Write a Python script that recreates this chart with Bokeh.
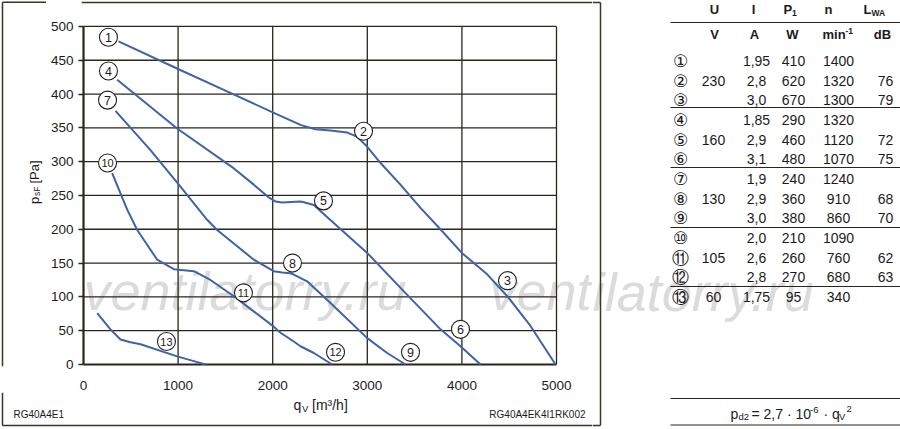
import math
from bokeh.plotting import figure
from bokeh.models import Range1d, FixedTicker, Label
from bokeh.layouts import row, column
from bokeh.embed import file_html
from bokeh.resources import INLINE
from bokeh.core.properties import value

# ---------------- data ----------------
x_ticks = [0, 1000, 2000, 3000, 4000, 5000]
y_ticks = [0, 50, 100, 150, 200, 250, 300, 350, 400, 450, 500]

# curve 1-2-3 (230 V)
c1_q = [370, 1000, 1500, 2000, 2300, 2450, 2610, 2790, 2890, 3000, 3140, 3350, 3560, 3780, 4000, 4270, 4480, 4725, 4990]
c1_p = [478, 437, 405, 373, 354, 348, 346, 343, 337, 322, 298, 266, 232, 199, 165, 133, 101, 57, 0]
# curve 4-5-6 (160 V)
c2_q = [356, 990, 1590, 1800, 1950, 2030, 2100, 2294, 2330, 2435, 2560, 2999, 3422, 3774, 3985, 4197]
c2_p = [421, 349, 290, 266, 248, 241, 239.5, 241, 240, 236, 220, 165, 103, 52, 27, 0]
# curve 7-8-9 (130 V)
c3_q = [338, 708, 1025, 1307, 1413, 1800, 2011, 2100, 2188, 2223, 2364, 2611, 2999, 3210, 3404]
c3_p = [375, 317, 263, 214, 199, 155, 138, 136, 135, 133, 123, 91, 39, 17, 0]
# curve 10-11-12 (105 V)
c4_q = [303, 462, 568, 779, 955, 1166, 1342, 1589, 2011, 2082, 2223, 2294, 2435, 2629]
c4_p = [283, 229, 199, 155, 141, 138, 125, 101, 56, 47, 34, 27, 17, 0]
# curve 13 (60 V)
c5_q = [145, 285, 391, 497, 603, 990, 1166, 1290]
c5_p = [76, 52, 37, 33, 30, 12, 5, 0]

# operating point markers
mark_txt = ["1", "2", "3", "4", "5", "6", "7", "8", "9", "10", "11", "12", "13"]
mark_q = [264, 2960, 4482, 264, 2537, 3985, 254, 2209, 3457, 254, 1691, 2664, 877]
mark_p = [484, 345, 124, 434, 242, 52, 391, 150, 18, 298, 106, 18, 34]

# table
row_ids = ["\u2460", "\u2461", "\u2462", "\u2463", "\u2464", "\u2465", "\u2466",
           "\u2467", "\u2468", "\u2469", "\u246a", "\u246b", "\u246c"]
U_vals = ["", "230", "", "", "160", "", "", "130", "", "", "105", "", "60"]
I_vals = ["1,95", "2,8", "3,0", "1,85", "2,9", "3,1", "1,9", "2,9", "3,0", "2,0", "2,6", "2,8", "1,75"]
P_vals = ["410", "620", "670", "290", "460", "480", "240", "360", "380", "210", "260", "270", "95"]
n_vals = ["1400", "1320", "1300", "1320", "1120", "1070", "1240", "910", "860", "1090", "760", "680", "340"]
L_vals = ["", "76", "79", "", "72", "75", "", "68", "70", "", "62", "63", ""]

# ---------------- style / layout constants ----------------
FONT = "Liberation Sans"
DARK = "#2b251c"
BOXC = "#3c352b"
TXT = "#1b1b1b"
BLUE = "#3e63a8"
WM = "#b8b8b8"

PAGE_W, PAGE_H = 900, 429
LEFT_W = 592          # left panel (chart) width
STRIP_W = 46          # strip holding the y-axis title
TOP_H = 392           # height of chart part
BOX_R = 600           # right edge of the surrounding box
FL, FR, FT, FB = 83, 556, 26, 365   # chart data area (q=0..5000, p=0..500) in page px


def X(px):
    return (px - FL) * 5000.0 / (FR - FL)


def Y(py):
    return (FB - py) * 500.0 / (FB - FT)


def plain(w, h, x0, x1, y_top, y_bot):
    f = figure(width=w, height=h, x_range=Range1d(x0, x1), y_range=Range1d(y_bot, y_top),
               output_backend="svg", toolbar_location=None,
               x_axis_type=None, y_axis_type=None, min_border=0)
    f.grid.visible = False
    f.outline_line_color = None
    f.background_fill_color = "white"
    f.border_fill_color = "white"
    return f


def lab(fig, text, x, y, size=14, align="left", style="normal",
        angle=0.0, color=TXT, font=FONT, alpha=1.0, level="annotation"):
    fig.add_layout(Label(x=x, y=y, text=text, text_font=font,
                         text_font_size=f"{size}px", text_align=align,
                         text_baseline="middle", text_font_style=style, angle=angle,
                         text_color=color, text_alpha=alpha, level=level))


# ---------------- chart figure ----------------
p = figure(width=LEFT_W - STRIP_W, height=TOP_H,
           x_range=Range1d(X(81), X(LEFT_W)), y_range=Range1d(Y(367), Y(0)),
           output_backend="svg", toolbar_location=None,
           min_border_left=81 - STRIP_W, min_border_right=0,
           min_border_top=0, min_border_bottom=TOP_H - 367)
p.background_fill_color = "white"
p.border_fill_color = "white"
p.outline_line_color = None
p.grid.visible = False

p.xaxis.ticker = FixedTicker(ticks=x_ticks)
p.yaxis.ticker = FixedTicker(ticks=y_ticks)
p.axis.minor_tick_line_color = None
p.axis.axis_line_color = None
p.xaxis.major_tick_line_color = None
p.yaxis.major_tick_line_color = DARK
p.yaxis.major_tick_line_width = 1.5
p.yaxis.major_tick_out = 3
p.yaxis.major_tick_in = 2
p.axis.major_label_text_font = FONT
p.axis.major_label_text_font_size = "13.5px"
p.axis.major_label_text_color = TXT
p.yaxis.major_label_standoff = 5
p.xaxis.major_label_standoff = 8

# watermark (second one continues in the table panel)
WM_Y = 291.5
lab(p, "ventilatorry.ru", X(83), Y(WM_Y), size=54, style="italic", color=WM, alpha=0.5, level="underlay")
lab(p, "vent", X(489), Y(WM_Y), size=54, style="italic", color=WM, alpha=0.5, level="underlay")

# grid (drawn only over the data area) and axis lines
gy = y_ticks[1:]
gx = x_ticks[1:]
p.segment(x0=[x_ticks[0]] * len(gy), y0=gy, x1=[x_ticks[-1]] * len(gy), y1=gy,
          line_color=DARK, line_width=1.3)
p.segment(x0=gx, y0=[y_ticks[0]] * len(gx), x1=gx, y1=[y_ticks[-1]] * len(gx),
          line_color=DARK, line_width=1.3)
p.segment(x0=[x_ticks[0], x_ticks[0]], y0=[y_ticks[0], y_ticks[0]],
          x1=[x_ticks[0], x_ticks[-1]], y1=[y_ticks[-1], y_ticks[0]],
          line_color=DARK, line_width=2.2)
# top edge of the surrounding box
p.segment(x0=[X(81)], y0=[Y(2)], x1=[X(LEFT_W)], y1=[Y(2)], line_color=BOXC, line_width=1.5)

# curves
for cq, cp in [(c1_q, c1_p), (c2_q, c2_p), (c3_q, c3_p), (c4_q, c4_p), (c5_q, c5_p)]:
    p.line(cq, cp, line_color=BLUE, line_width=2, line_join="round")

# markers
p.scatter(mark_q, mark_p, size=18, marker="circle", fill_color="white",
          line_color="#222222", line_width=1.1)
one = [i for i, t in enumerate(mark_txt) if len(t) == 1]
two = [i for i, t in enumerate(mark_txt) if len(t) == 2]
p.text([mark_q[i] for i in one], [mark_p[i] for i in one], text=[mark_txt[i] for i in one],
       text_align="center", text_baseline="middle", text_font=value(FONT),
       text_font_size="12.5px", text_color=TXT)
p.text([mark_q[i] for i in two], [mark_p[i] for i in two], text=[mark_txt[i] for i in two],
       text_align="center", text_baseline="middle", text_font=value(FONT),
       text_font_size="11px", text_color=TXT)

# ---------------- left strip (y title) ----------------
a = plain(STRIP_W, TOP_H, 0, STRIP_W, 0, TOP_H)
lab(a, "p", 33.5, 218, 13, angle=math.pi / 2)
lab(a, "sF", 36.5, 209.5, 8.5, angle=math.pi / 2)
lab(a, "[Pa]", 33.5, 196, 13, angle=math.pi / 2)
a.segment(x0=[2, 2], y0=[2, 2], x1=[2, STRIP_W], y1=[TOP_H, 2], line_color=BOXC, line_width=1.5)

# ---------------- bottom strip (x title) ----------------
c = plain(LEFT_W, PAGE_H - TOP_H, 0, LEFT_W, TOP_H, PAGE_H)
lab(c, "q", 293, 404.5, 14)
lab(c, "V", 301.5, 408, 9.5)
lab(c, "[m\u00b3/h]", 311.5, 404.5, 14)
lab(c, "RG40A4E1", 13, 413.5, 10)
lab(c, "RG40A4EK4I1RK002", 585, 413.5, 10, align="right")
c.segment(x0=[2, 2], y0=[TOP_H, 425], x1=[2, LEFT_W], y1=[425, 425], line_color=BOXC, line_width=1.5)

# ---------------- table panel ----------------
d = plain(PAGE_W - LEFT_W, PAGE_H, LEFT_W, PAGE_W, 0, PAGE_H)
lab(d, "ilatorry.ru", LEFT_W + 0.3, WM_Y, size=54, style="italic", color=WM, alpha=0.5, level="underlay")
d.segment(x0=[LEFT_W, BOX_R, LEFT_W], y0=[2, 2, 425], x1=[BOX_R, BOX_R, BOX_R], y1=[2, 425, 425],
          line_color=BOXC, line_width=1.5)

h1, h2 = 9, 34
lab(d, "U", 714, h1, 13, align="center", style="bold")
lab(d, "I", 753, h1, 13, align="center", style="bold")
lab(d, "P", 783, h1, 13, style="bold")
lab(d, "1", 791.5, h1 + 3.5, 8.5, style="bold")
lab(d, "n", 828, h1, 13, align="center", style="bold")
lab(d, "L", 863, h1, 13, style="bold")
lab(d, "WA", 871, h1 + 3.5, 8.5, style="bold")
lab(d, "V", 714, h2, 13, align="center", style="bold")
lab(d, "A", 754, h2, 13, align="center", style="bold")
lab(d, "W", 792, h2, 13, align="center", style="bold")
lab(d, "min", 822, h2, 13, style="bold")
lab(d, "-1", 845, h2 - 4, 8.5, style="bold")
lab(d, "dB", 882, h2, 13, align="center", style="bold")

row_mid = [60.5 + 19.65 * i for i in range(len(row_ids))]
d.text([680] * len(row_ids), row_mid, text=row_ids, text_align="center",
       text_baseline="middle", text_font=value("DejaVu Sans"),
       text_font_size="17px", text_color=TXT)
for cx, vals in [(713, U_vals), (756, I_vals), (793, P_vals), (838, n_vals), (885, L_vals)]:
    d.text([cx] * len(vals), row_mid, text=vals, text_align="center",
           text_baseline="middle", text_font=value(FONT),
           text_font_size="14px", text_color=TXT)

sep_y = [22, 107, 167, 227, 286, 398, 424.5]
d.segment(x0=[670] * len(sep_y), y0=sep_y, x1=[PAGE_W] * len(sep_y), y1=sep_y,
          line_color=DARK, line_width=1.1)

fm = 413
lab(d, "p", 730, fm, 14)
lab(d, "d2", 738, fm + 2.5, 9.5)
lab(d, "= 2,7 \u00b7 10", 751, fm, 14)
lab(d, "-6", 809.5, fm - 4, 9.5)
lab(d, "\u00b7 q", 823, fm, 14)
lab(d, "V", 838.5, fm + 2.5, 9.5)
lab(d, "2", 846, fm - 4.5, 9.5)

layout = row(column(row(a, p), c), d)
open("out.html", "w").write(file_html(layout, INLINE))
